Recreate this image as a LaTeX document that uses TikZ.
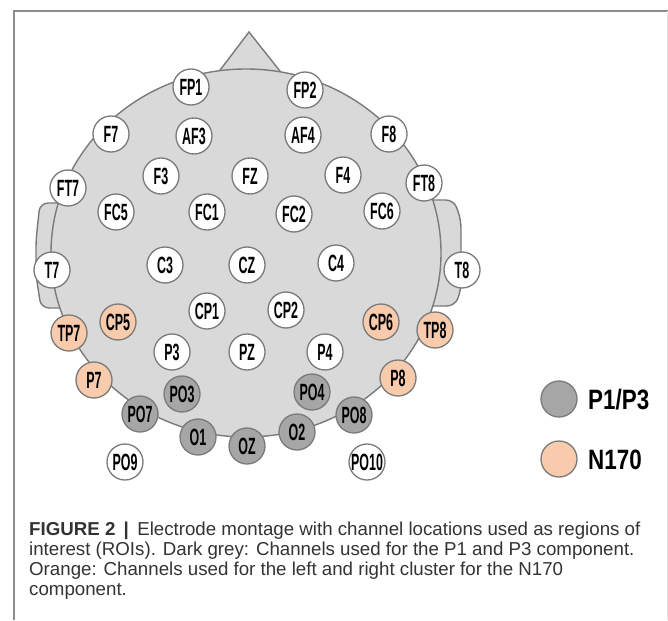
\documentclass[tikz,border=0pt]{standalone}
\usepackage{fontspec}
\setmainfont{Liberation Sans}
\newfontfamily\elfont[FakeStretch=0.53]{Liberation Sans}
\newfontfamily\lgfont[FakeStretch=0.8]{Liberation Sans}
\definecolor{headfill}{HTML}{D9D9D9}
\definecolor{outl}{HTML}{7A7A7A}
\definecolor{darkel}{HTML}{A6A6A6}
\definecolor{orel}{HTML}{F8CBAD}
\definecolor{framec}{HTML}{8C8C8C}
\definecolor{captxt}{HTML}{333333}
\tikzset{
  el/.style={circle, minimum size=36pt, inner sep=0pt, draw=outl, line width=1.3pt, fill=white,
    font=\elfont\bfseries\fontsize{23.5}{23.5}\selectfont, text=black},
  elw/.style={el},
  elo/.style={el, fill=orel},
  elg/.style={el, fill=darkel},
  legtext/.style={anchor=west, inner sep=0pt, font=\lgfont\bfseries\fontsize{28}{28}\selectfont},
  headline/.style={draw=outl, line width=1.4pt, fill=headfill},
  capline/.style={anchor=base west, inner sep=0pt, text=captxt, font=\fontsize{18.7}{20}\selectfont}
}
\begin{document}
\begin{tikzpicture}[x=1pt, y=-1pt]
\useasboundingbox (0,0) rectangle (668,620);
% frame
\draw[framec, line width=1.5pt] (14,620) -- (14,11) -- (668,11);
\draw[black!12, line width=1pt] (667,11) -- (667,620);
% ears
\draw[headline, rounded corners=8pt] (70,203) -- (40,203) -- (36,240) -- (36,275) -- (41,308) -- (70,308);
\draw[headline, rounded corners=8pt] (420,200) -- (454,200) -- (461,220) -- (461,290) -- (455,306) -- (420,306);
% nose
\draw[headline, line join=miter] (205,90) -- (249,32) -- (295,90);
% head
\draw[headline] (246,253) ellipse [x radius=195, y radius=184];
% electrodes
\node[elw] (FP1) at (191,87) {FP1};
\node[elw] (FP2) at (305,90) {FP2};
\node[elw] (F7) at (111,134) {F7};
\node[elw] (AF3) at (194,136) {AF3};
\node[elw] (AF4) at (303,135) {AF4};
\node[elw] (F8) at (389,134) {F8};
\node[elw] (F3) at (161,176) {F3};
\node[elw] (FZ) at (250,176) {FZ};
\node[elw] (F4) at (343,175) {F4};
\node[elw] (FT7) at (68,188) {FT7};
\node[elw] (FT8) at (424,183) {FT8};
\node[elw] (FC5) at (116,212) {FC5};
\node[elw] (FC1) at (207,212) {FC1};
\node[elw] (FC2) at (294,214) {FC2};
\node[elw] (FC6) at (382,211) {FC6};
\node[elw] (T7) at (52,270) {T7};
\node[elw] (C3) at (165,265) {C3};
\node[elw] (CZ) at (247,265) {CZ};
\node[elw] (C4) at (336,263) {C4};
\node[elw] (T8) at (462,270) {T8};
\node[elw] (CP1) at (207,311) {CP1};
\node[elw] (CP2) at (286,310) {CP2};
\node[elo] (CP5) at (118,322) {CP5};
\node[elo] (CP6) at (381,322) {CP6};
\node[elo] (TP7) at (69,333) {TP7};
\node[elo] (TP8) at (435,330) {TP8};
\node[elw] (P3) at (172,352) {P3};
\node[elw] (PZ) at (247,352) {PZ};
\node[elw] (P4) at (325,352) {P4};
\node[elo] (P7) at (94,380) {P7};
\node[elo] (P8) at (398,378) {P8};
\node[elg] (PO3) at (182,394) {PO3};
\node[elg] (PO4) at (312,392) {PO4};
\node[elg] (PO7) at (140,414) {PO7};
\node[elg] (PO8) at (354,415) {PO8};
\node[elg] (O1) at (198,437) {O1};
\node[elg] (OZ) at (247,446) {OZ};
\node[elg] (O2) at (297,432) {O2};
\node[elw] (PO9) at (125,462) {PO9};
\node[elw] (PO10) at (367,462) {PO10};
% legend
\node[elg] (LG1) at (559,399) {};
\node[legtext] (LT1) at (588,400) {P1/P3};
\node[elo] (LG2) at (559,459) {};
\node[legtext] (LT2) at (588,460) {N170};
% caption
\node[capline] (cap1) at (29,535) {\textbf{FIGURE 2 \,|\,} Electrode montage with channel locations used as regions of};
\node[capline] (cap2) at (29,555.5) {interest (ROIs). Dark grey: Channels used for the P1 and P3 component.};
\node[capline] (cap3) at (29,575.5) {Orange: Channels used for the left and right cluster for the N170};
\node[capline] (cap4) at (29,595.5) {component.};
\end{tikzpicture}
\end{document}
